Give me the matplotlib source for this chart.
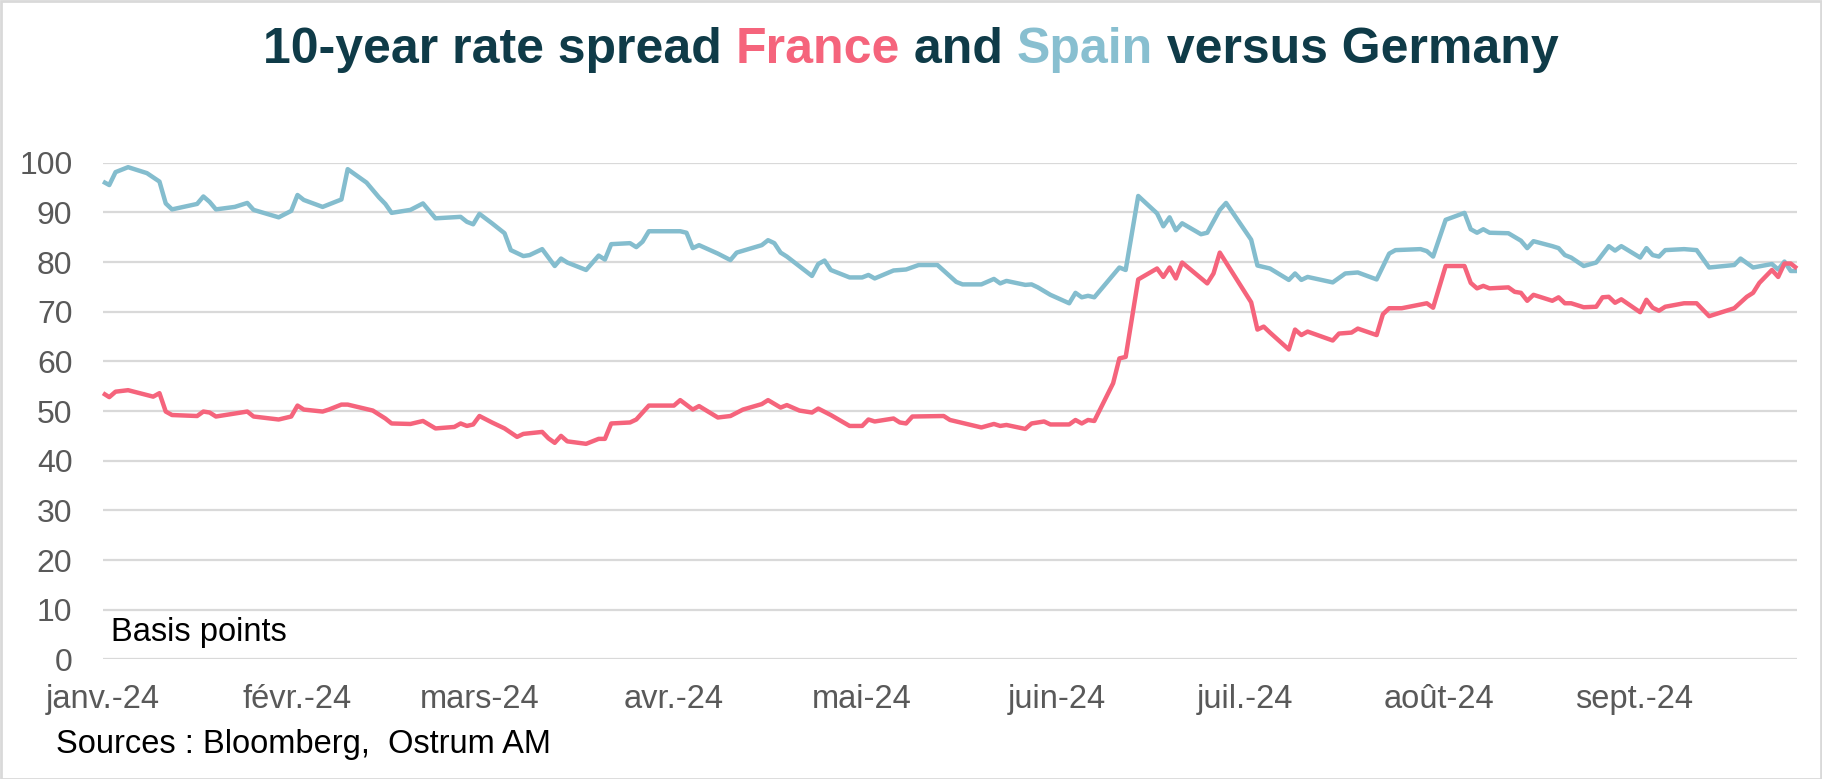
import numpy as np
import matplotlib
matplotlib.use("Agg")
import matplotlib.pyplot as plt
from matplotlib.patches import Rectangle

# ---------------- data (day offsets from 2024-01-01, spread in bp) ----------------
start_date = "2024-01-01"
end_date = "2024-09-27"

spain_days = [0, 1, 2, 4, 7, 9, 10, 11, 15, 16, 17, 18, 21, 23, 24, 28, 30, 31, 32, 35,
              38, 39, 42, 44, 45, 46, 49, 51, 53, 57, 58, 59, 60, 62, 64, 65, 67, 68, 70, 72,
              73, 74, 77, 79, 80, 81, 84, 85, 86, 87, 92, 93, 94, 95, 98, 100, 101, 105, 106, 107,
              108, 109, 113, 114, 115, 116, 119, 121, 122, 123, 126, 128, 130, 133, 136, 137, 140, 142, 143, 144,
              147, 148, 149, 151, 154, 155, 156, 157, 158, 162, 163, 165, 168, 169, 170, 171, 172, 175, 176, 178,
              179, 183, 184, 186, 189, 190, 191, 192, 196, 198, 200, 203, 205, 206, 210, 211, 212, 214, 217, 218,
              219, 220, 221, 224, 226, 227, 228, 231, 232, 233, 234, 236, 238, 240, 241, 242, 245, 246, 247, 248,
              249, 252, 254, 256, 260, 261, 263, 266, 267, 268, 269, 270]
spain_values = [96.2, 95.5, 98.1, 99.1, 97.9, 96.2, 91.8, 90.6, 91.7, 93.2, 92.1, 90.6, 91.1, 91.9, 90.5, 89.0, 90.3, 93.5, 92.5, 91.1,
                92.6, 98.7, 96.0, 93.0, 91.7, 89.9, 90.5, 91.8, 88.8, 89.1, 88.1, 87.6, 89.7, 87.8, 85.8, 82.4, 81.2, 81.4, 82.6, 79.2,
                80.7, 79.9, 78.4, 81.3, 80.5, 83.6, 83.8, 83.0, 84.1, 86.2, 86.2, 85.9, 82.8, 83.4, 81.7, 80.4, 81.9, 83.4, 84.4, 83.8,
                81.9, 81.1, 77.2, 79.6, 80.3, 78.4, 76.9, 76.9, 77.4, 76.7, 78.3, 78.5, 79.4, 79.4, 76.0, 75.5, 75.5, 76.6, 75.7, 76.2,
                75.4, 75.5, 74.9, 73.4, 71.7, 73.8, 72.9, 73.2, 72.9, 78.9, 78.4, 93.3, 89.8, 87.2, 89.0, 86.4, 87.8, 85.6, 85.9, 90.5,
                91.9, 84.5, 79.3, 78.7, 76.4, 77.7, 76.4, 77.0, 75.9, 77.7, 77.9, 76.5, 81.7, 82.4, 82.6, 82.2, 81.1, 88.5, 89.9, 86.6,
                85.9, 86.6, 85.9, 85.8, 84.3, 82.8, 84.2, 83.2, 82.8, 81.4, 80.9, 79.2, 79.9, 83.2, 82.3, 83.2, 80.9, 82.8, 81.4, 81.1,
                82.4, 82.6, 82.4, 78.9, 79.4, 80.7, 78.9, 79.6, 78.5, 80.1, 78.2, 78.2]

france_days = [0, 1, 2, 4, 8, 9, 10, 11, 15, 16, 17, 18, 23, 24, 28, 30, 31, 32, 35, 36,
               38, 39, 43, 45, 46, 49, 51, 53, 56, 57, 58, 59, 60, 62, 64, 66, 67, 70, 71, 72,
               73, 74, 77, 79, 80, 81, 84, 85, 87, 91, 92, 94, 95, 98, 100, 102, 105, 106, 108, 109,
               111, 113, 114, 116, 119, 121, 122, 123, 126, 127, 128, 129, 134, 135, 140, 142, 143, 144, 147, 148,
               150, 151, 154, 155, 156, 157, 158, 161, 162, 163, 165, 168, 169, 170, 171, 172, 176, 177, 178, 183,
               184, 185, 186, 189, 190, 191, 192, 196, 197, 199, 200, 203, 204, 205, 207, 211, 212, 214, 217, 218,
               219, 220, 221, 224, 225, 226, 227, 228, 231, 232, 233, 234, 236, 238, 239, 240, 241, 242, 245, 246,
               247, 248, 249, 252, 254, 256, 260, 262, 263, 264, 266, 267, 268, 269, 270]
france_values = [53.6, 52.8, 53.9, 54.2, 52.9, 53.6, 49.9, 49.2, 49.0, 49.9, 49.7, 48.9, 49.9, 48.9, 48.3, 48.9, 51.1, 50.3, 49.9, 50.3,
                 51.3, 51.3, 50.1, 48.5, 47.5, 47.4, 48.0, 46.5, 46.8, 47.5, 47.0, 47.3, 49.0, 47.7, 46.5, 44.8, 45.4, 45.8, 44.5, 43.6,
                 45.0, 43.9, 43.4, 44.4, 44.4, 47.5, 47.7, 48.3, 51.1, 51.1, 52.2, 50.3, 51.0, 48.7, 49.0, 50.3, 51.4, 52.2, 50.7, 51.2,
                 50.1, 49.7, 50.5, 49.2, 47.0, 47.0, 48.3, 47.9, 48.5, 47.7, 47.5, 48.9, 49.0, 48.2, 46.7, 47.4, 47.0, 47.2, 46.4, 47.5,
                 47.9, 47.3, 47.3, 48.2, 47.5, 48.2, 48.0, 55.6, 60.6, 60.9, 76.5, 78.7, 77.0, 78.9, 76.7, 79.9, 75.7, 77.7, 81.9, 71.9,
                 66.4, 67.0, 65.8, 62.4, 66.4, 65.3, 66.0, 64.2, 65.6, 65.8, 66.6, 65.3, 69.5, 70.7, 70.7, 71.7, 70.8, 79.2, 79.2, 75.8,
                 74.7, 75.2, 74.7, 74.9, 74.0, 73.8, 72.2, 73.4, 72.2, 72.9, 71.7, 71.7, 70.9, 71.0, 72.9, 73.0, 71.8, 72.5, 69.9, 72.4,
                 70.8, 70.2, 71.0, 71.7, 71.7, 69.1, 70.7, 73.0, 73.8, 75.8, 78.4, 77.0, 79.7, 79.7, 78.7]

month_labels = ["janv.-24", "févr.-24", "mars-24", "avr.-24", "mai-24",
                "juin-24", "juil.-24", "août-24", "sept.-24"]
y_ticks = [0, 10, 20, 30, 40, 50, 60, 70, 80, 90, 100]

title_parts = [("10-year rate spread ", "#0f3b48"), ("France", "#f5647c"),
               (" and ", "#0f3b48"), ("Spain", "#88bfd0"), (" versus Germany", "#0f3b48")]

# ---------------- styling ----------------
FRANCE_COLOR = "#f5647c"
SPAIN_COLOR = "#84bdce"
GRID_COLOR = "#d9d9d9"
TICK_COLOR = "#595959"

plt.rcParams["font.family"] = ["Liberation Sans", "DejaVu Sans"]

W, H = 1822, 779
fig = plt.figure(figsize=(W / 100, H / 100), dpi=100)
fig.patch.set_facecolor("white")

left, right = 103 / W, 1797 / W
bottom, top = (H - 659.4) / H, (H - 162.7) / H
ax = fig.add_axes([left, bottom, right - left, top - bottom])

t0 = np.datetime64(start_date)
spain_dates = t0 + np.array(spain_days).astype("timedelta64[D]")
france_dates = t0 + np.array(france_days).astype("timedelta64[D]")

ax.plot(spain_dates, spain_values, color=SPAIN_COLOR, lw=3.2, solid_joinstyle="round",
        solid_capstyle="butt", zorder=3, clip_on=False)
ax.plot(france_dates, france_values, color=FRANCE_COLOR, lw=3.2, solid_joinstyle="round",
        solid_capstyle="butt", zorder=3, clip_on=False)

ax.set_xlim(t0, np.datetime64(end_date))
ax.set_ylim(0, 100)
ax.set_yticks(y_ticks)
ax.yaxis.grid(True, color=GRID_COLOR, lw=1.6)
ax.set_axisbelow(True)
for s in ax.spines.values():
    s.set_visible(False)

month_ticks = t0.astype("datetime64[M]") + np.arange(len(month_labels)).astype("timedelta64[M]")
ax.set_xticks(month_ticks.astype("datetime64[D]"))
ax.set_xticklabels(month_labels)
ax.tick_params(axis="x", length=0, pad=18, labelsize=23.5, labelcolor=TICK_COLOR)
ax.tick_params(axis="y", length=0, pad=22, labelsize=23, labelcolor=TICK_COLOR)

# annotations
fig.text(111 / W, 1 - 633 / H, "Basis points", fontsize=23.5, color="black", va="center", ha="left")
fig.text(56 / W, 1 - 745 / H, "Sources : Bloomberg,  Ostrum AM", fontsize=23.5, color="black",
         va="center", ha="left")

# multi-coloured title, centred
fig.canvas.draw()
renderer = fig.canvas.get_renderer()
texts = []
for s, c in title_parts:
    t = fig.text(0, 1 - 50 / H, s, fontsize=36, fontweight="bold", color=c, va="center", ha="left")
    texts.append(t)
widths = [t.get_window_extent(renderer).width for t in texts]
total = sum(widths)
xpos = (W - total) / 2
for t, w in zip(texts, widths):
    t.set_x(xpos / W)
    xpos += w

# figure border
fig.add_artist(Rectangle((0.5 / W, 0.5 / H), 1 - 1.5 / W, 1 - 1.5 / H, transform=fig.transFigure,
                         fill=False, edgecolor="#d9d9d9", lw=2))

fig.savefig("out.png", dpi=100, facecolor="white")
